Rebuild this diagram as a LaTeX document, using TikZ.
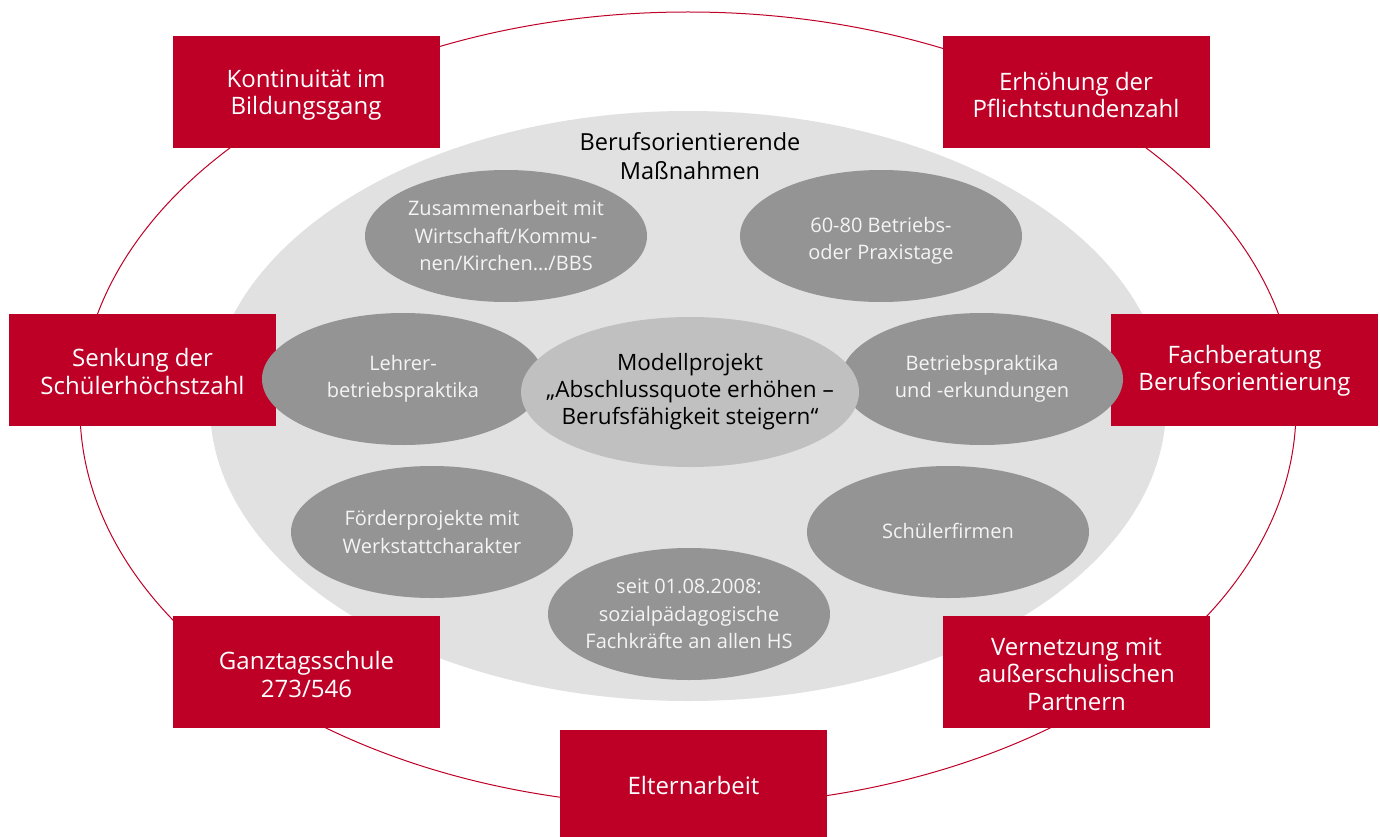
\documentclass[tikz,border=0pt]{standalone}
\usepackage{fontspec}
\setmainfont{Open Sans}
\usetikzlibrary{shapes.geometric}
\definecolor{boxred}{HTML}{BE0027}
\definecolor{pillgray}{HTML}{949494}
\definecolor{coregray}{HTML}{C0C0C0}
\definecolor{fieldgray}{HTML}{E1E1E1}
\definecolor{pilltxt}{HTML}{F4F4F4}
\tikzset{
  redbox/.style={rectangle, fill=boxred, minimum width=267pt, minimum height=112pt, inner sep=0pt},
  redlabel/.style={text=white, align=center, inner sep=0pt, font=\fontsize{24}{27.5}\selectfont},
  pill/.style={ellipse, fill=pillgray, minimum width=282pt, minimum height=132pt, inner sep=0pt},
  pilltext/.style={text=pilltxt, align=center, inner sep=0pt, font=\fontsize{20}{27.5}\selectfont},
  coretext/.style={text=black, align=center, inner sep=0pt, font=\fontsize{22.5}{27}\selectfont},
}
\begin{document}
\begin{tikzpicture}[x=1pt,y=-1pt]
\useasboundingbox (0,0) rectangle (1380,837);
% outer ring
\node[ellipse, draw=boxred, line width=1pt, minimum width=1216pt, minimum height=794pt, inner sep=0pt] (ring) at (688,409) {};
% light grey field
\node[ellipse, fill=fieldgray, minimum width=956pt, minimum height=590pt, inner sep=0pt] (field) at (688,406) {};
\node[coretext, font=\fontsize{23.5}{29}\selectfont] (title) at (690,156) {Berufsorientierende\\Maßnahmen};
% red boxes
\node[redbox] (kont) at (306,92.5) {};
\node[redlabel] (kontt) at ([yshift=-2.5pt]kont.center) {Kontinuität im\\Bildungsgang};
\node[redbox] (erh) at (1076,92.5) {};
\node[redlabel] (erht) at ([yshift=-2.5pt]erh.center) {Erhöhung der\\Pflichtstundenzahl};
\node[redbox] (senk) at (142.5,370) {};
\node[redlabel] (senkt) at ([yshift=-1.5pt]senk.center) {Senkung der\\Schülerhöchstzahl};
\node[redbox] (fach) at (1244.5,369.5) {};
\node[redlabel] (facht) at ([yshift=-1.5pt]fach.center) {Fachberatung\\Berufsorientierung};
\node[redbox] (ganz) at (306.5,672) {};
\node[redlabel] (ganzt) at ([yshift=-2.5pt]ganz.center) {Ganztagsschule\\273/546};
\node[redbox] (vern) at (1076.5,672) {};
\node[redlabel] (vernt) at ([yshift=-2pt]vern.center) {Vernetzung mit\\außerschulischen\\Partnern};
\node[redbox, minimum height=107pt] (eltern) at (693.5,783.5) {};
\node[redlabel] (elternt) at ([yshift=-2pt]eltern.center) {Elternarbeit};
% grey pills
\node[pill] (zus) at (506,236) {};
\node[pilltext] (zust) at (zus) {Zusammenarbeit mit\\Wirtschaft/Kommu-\\nen/Kirchen…/BBS};
\node[pill] (praxis) at (881,236) {};
\node[pilltext] (praxist) at ([yshift=-5pt]praxis.center) {60-80 Betriebs-\\oder Praxistage};
\node[pill] (lehrer) at (403,379) {};
\node[pilltext] (lehrert) at (lehrer) {Lehrer-\\betriebspraktika};
\node[pill] (betr) at (982,379) {};
\node[pilltext] (betrt) at (betr) {Betriebspraktika\\und -erkundungen};
\node[pill] (foerd) at (432,532) {};
\node[pilltext] (foerdt) at (foerd) {Förderprojekte mit\\Werkstattcharakter};
\node[pill] (firmen) at (948,532) {};
\node[pilltext] (firment) at ([yshift=1pt]firmen.center) {Schülerfirmen};
\node[pill] (sozial) at (689,614) {};
\node[pilltext] (sozialt) at (sozial) {seit 01.08.2008:\\sozialpädagogische\\Fachkräfte an allen HS};
% core
\node[ellipse, fill=coregray, minimum width=338pt, minimum height=150pt, inner sep=0pt] (core) at (690,392) {};
\node[coretext] (coret) at (core) {Modellprojekt\\„Abschlussquote erhöhen –\\Berufsfähigkeit steigern“};
\end{tikzpicture}
\end{document}
